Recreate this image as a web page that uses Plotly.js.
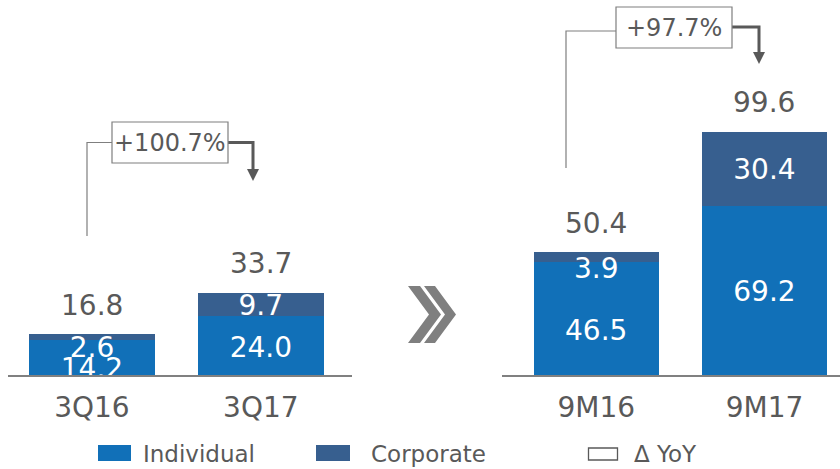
<!DOCTYPE html>
<html>
<head>
<meta charset="utf-8">
<script src="https://cdn.plot.ly/plotly-3.0.1.min.js"></script>
<style>html,body{margin:0;padding:0;background:#fff;}#chart{width:840px;height:469px;}</style>
</head>
<body>
<div id="chart"></div>
<script>
// ---- data ----
const quarterCategories = ['3Q16', '3Q17'];
const ninemonthCategories = ['9M16', '9M17'];
const individualQuarter = [14.2, 24.0];
const corporateQuarter = [2.6, 9.7];
const totalQuarter = [16.8, 33.7];
const individualNineMonth = [46.5, 69.2];
const corporateNineMonth = [3.9, 30.4];
const totalNineMonth = [50.4, 99.6];
const yoyLabels = ['+100.7%', '+97.7%'];
const legendLabels = ['Individual', 'Corporate', '\u0394 YoY'];

// ---- styling / geometry ----
const W = 840, H = 469, PLOT_BOTTOM = 375;
const PX_PER_UNIT = 2.44;
const YMAX = PLOT_BOTTOM / PX_PER_UNIT;
const C_IND = '#1170B8', C_CORP = '#375F8F', GREY = '#595959', LGREY = '#7F7F7F';
const FONT = 'DejaVu Sans, Verdana, sans-serif';
// label nudges (px, downward) for inside labels
const indLabelShift = {q: [13, 4], n: [15, 3]};
const corpLabelShift = {q: [13, 3], n: [14, 3]};

const px = x => x / W;
const py = y => (PLOT_BOTTOM - y) / PLOT_BOTTOM;
const pathOf = pts => pts.map((p, i) => (i ? 'L' : 'M') + px(p[0]) + ',' + py(p[1])).join(' ');

function bars(cats, ind, corp, xa) {
  return [
    {type: 'bar', x: cats, y: ind, xaxis: xa, yaxis: 'y', marker: {color: C_IND}, hoverinfo: 'skip', showlegend: false},
    {type: 'bar', x: cats, y: corp, xaxis: xa, yaxis: 'y', marker: {color: C_CORP}, hoverinfo: 'skip', showlegend: false}
  ];
}
function insideLabels(cats, ind, corp, xa, shI, shC) {
  const xs = [], ys = [], ts = [];
  cats.forEach((c, i) => {
    xs.push(c); ys.push(ind[i] / 2 - shI[i] / PX_PER_UNIT); ts.push(ind[i].toFixed(1));
    xs.push(c); ys.push(ind[i] + corp[i] / 2 - shC[i] / PX_PER_UNIT); ts.push(corp[i].toFixed(1));
  });
  return {type: 'scatter', mode: 'text', x: xs, y: ys, text: ts, xaxis: xa, yaxis: 'y',
    textposition: 'middle center', cliponaxis: true,
    textfont: {family: FONT, size: 28, color: '#FFFFFF'}, hoverinfo: 'skip', showlegend: false};
}

const data = [
  ...bars(quarterCategories, individualQuarter, corporateQuarter, 'x'),
  ...bars(ninemonthCategories, individualNineMonth, corporateNineMonth, 'x2'),
  insideLabels(quarterCategories, individualQuarter, corporateQuarter, 'x', indLabelShift.q, corpLabelShift.q),
  insideLabels(ninemonthCategories, individualNineMonth, corporateNineMonth, 'x2', indLabelShift.n, corpLabelShift.n)
];

const annotations = [];
function totals(cats, tot, xa) {
  cats.forEach((c, i) => annotations.push({
    xref: xa, yref: 'y', x: c, y: tot[i], text: tot[i].toFixed(1), showarrow: false,
    yanchor: 'middle', yshift: 29, font: {family: FONT, size: 28, color: GREY}
  }));
}
totals(quarterCategories, totalQuarter, 'x');
totals(ninemonthCategories, totalNineMonth, 'x2');

// YoY boxes
const boxes = [
  {x0: 112, x1: 228, y0: 122, y1: 163, text: yoyLabels[0],
   left: [[87, 236], [87, 142.5], [112, 142.5]], right: [[228, 142.5], [253, 142.5], [253, 171]], head: [[247, 169], [259, 169], [253, 181]]},
  {x0: 616, x1: 732, y0: 7, y1: 48, text: yoyLabels[1],
   left: [[566, 168], [566, 31], [616, 31]], right: [[732, 27], [759, 27], [759, 54]], head: [[753, 52], [765, 52], [759, 64]]}
];
const shapes = [];
boxes.forEach(b => {
  shapes.push({type: 'path', xref: 'paper', yref: 'paper', path: pathOf(b.left), line: {color: LGREY, width: 1.2}});
  shapes.push({type: 'path', xref: 'paper', yref: 'paper', path: pathOf(b.right), line: {color: GREY, width: 3}});
  shapes.push({type: 'path', xref: 'paper', yref: 'paper', path: pathOf(b.head) + ' Z', fillcolor: GREY, line: {color: GREY, width: 0}});
  shapes.push({type: 'rect', xref: 'paper', yref: 'paper', x0: px(b.x0), x1: px(b.x1), y0: py(b.y1), y1: py(b.y0),
    fillcolor: '#FFFFFF', line: {color: LGREY, width: 1.2}});
  annotations.push({xref: 'paper', yref: 'paper', x: px((b.x0 + b.x1) / 2), y: py((b.y0 + b.y1) / 2),
    text: b.text, showarrow: false, xanchor: 'center', yanchor: 'middle',
    font: {family: FONT, size: 24, color: GREY}});
});

// chevrons
shapes.push({type: 'path', xref: 'paper', yref: 'paper', fillcolor: LGREY, line: {width: 0},
  path: pathOf([[408, 286], [420, 286], [441, 314.5], [420, 343], [408, 343], [429, 314.5]]) + ' Z'});
shapes.push({type: 'path', xref: 'paper', yref: 'paper', fillcolor: LGREY, line: {width: 0},
  path: pathOf([[424, 286], [435, 286], [456, 314.5], [435, 343], [424, 343], [445, 314.5]]) + ' Z'});

// legend
const legendItems = [
  {x0: 98, x1: 131, y0: 445, y1: 461, fill: C_IND, border: C_IND, tx: 141},
  {x0: 316, x1: 350, y0: 445, y1: 461, fill: C_CORP, border: C_CORP, tx: 369},
  {x0: 588.5, x1: 617.5, y0: 448, y1: 460, fill: '#FFFFFF', border: GREY, tx: 632}
];
legendItems.forEach((it, i) => {
  shapes.push({type: 'rect', xref: 'paper', yref: 'paper', x0: px(it.x0), x1: px(it.x1), y0: py(it.y1), y1: py(it.y0),
    fillcolor: it.fill, line: {color: it.border, width: i === 2 ? 1.3 : 0}});
  annotations.push({xref: 'paper', yref: 'paper', x: px(it.tx), y: py(454), text: legendLabels[i], showarrow: false,
    xanchor: 'left', yanchor: 'middle', font: {family: FONT, size: 23, color: GREY}});
});

const xCommon = {showline: true, linecolor: '#808080', linewidth: 2, ticks: '', showgrid: false, zeroline: false,
  tickfont: {family: FONT, size: 28, color: GREY}, fixedrange: true, anchor: 'y', ticklabelstandoff: 6};

const layout = {
  width: W, height: H, margin: {l: 0, r: 0, t: 0, b: H - PLOT_BOTTOM},
  paper_bgcolor: '#FFFFFF', plot_bgcolor: '#FFFFFF',
  barmode: 'stack', bargap: 0.256, showlegend: false,
  font: {family: FONT, color: GREY},
  xaxis: Object.assign({}, xCommon, {domain: [7.5 / W, 352 / W], range: [-0.5, 1.54], type: 'category'}),
  xaxis2: Object.assign({}, xCommon, {domain: [502 / W, 1], range: [-0.56, 1.449], type: 'category'}),
  yaxis: {range: [0, YMAX], visible: false, showgrid: false, zeroline: false, fixedrange: true},
  shapes: shapes, annotations: annotations
};

Plotly.newPlot('chart', data, layout, {staticPlot: true, displayModeBar: false});
</script>
</body>
</html>
